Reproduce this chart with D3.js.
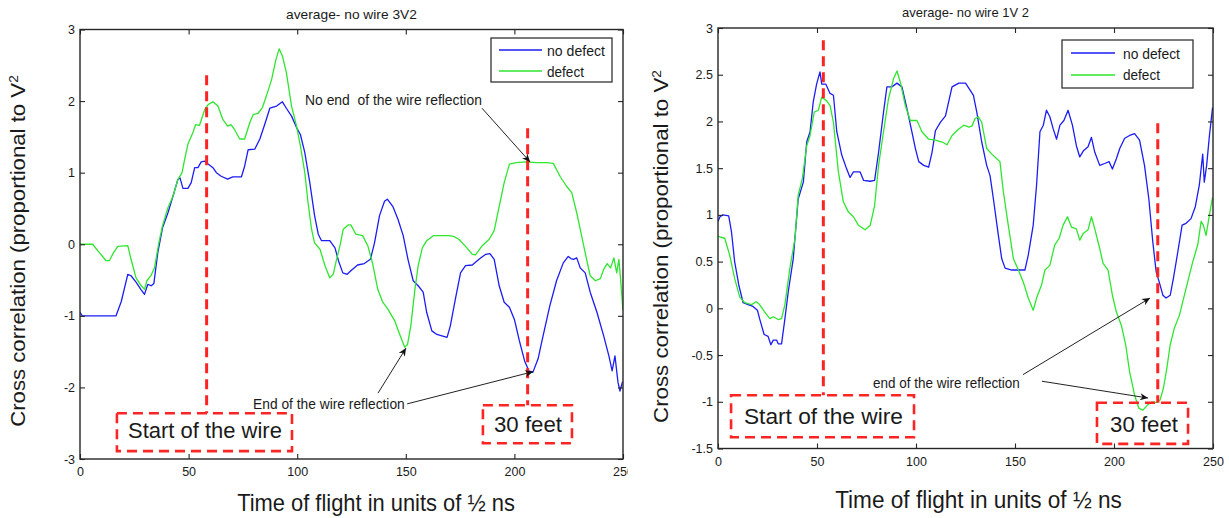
<!DOCTYPE html>
<html>
<head>
<meta charset="utf-8">
<script src="https://cdn.jsdelivr.net/npm/d3@7"></script>
<style>
  body { margin: 0; background: #fff; }
  svg { display: block; }
  text { font-family: "Liberation Sans", Arial, Helvetica, sans-serif; fill: #1a1a1a; white-space: pre; }
</style>
</head>
<body>
<svg id="chart" width="1229" height="518"></svg>
<script>
// ---- data -------------------------------------------------------------
const timeTicks = [0, 50, 100, 150, 200, 250];
const ticks3V2 = [-3, -2, -1, 0, 1, 2, 3];
const ticks1V2 = [-1.5, -1, -0.5, 0, 0.5, 1, 1.5, 2, 2.5, 3];
const seriesLabels = ["no defect", "defect"];

// [time (1/2 ns), cross correlation]
const noDefect3V2 = [[0,-0.95],[1,-1],[16.6,-1],[19,-0.8],[22,-0.42],[23.5,-0.44],[25.8,-0.53],[28,-0.63],[29.7,-0.7],[31.2,-0.56],[32.8,-0.58],[34,-0.55],[35.8,-0.12],[38,0.23],[40.5,0.44],[42.8,0.67],[45,0.9],[46,0.93],[47.4,0.78],[49.7,0.78],[51.2,0.86],[52.8,1.07],[54.3,1.07],[55.8,1.15],[57.4,1.16],[59,1.12],[61.2,1.07],[62.8,1.0],[65,0.95],[68,0.91],[70.3,0.94],[74.3,0.94],[75.8,1.09],[77.4,1.32],[80.5,1.33],[82.8,1.47],[85,1.67],[87.4,1.9],[90.5,1.93],[93.2,1.99],[95,1.9],[97.4,1.79],[99.7,1.63],[101.5,1.53],[103.5,1.28],[105.8,0.86],[108,0.4],[109.7,0.14],[111.2,0.05],[115,0.05],[117.4,-0.05],[119,-0.23],[121,-0.4],[123,-0.42],[124.7,-0.37],[127.8,-0.29],[130.9,-0.27],[133.7,-0.21],[135.6,0.02],[137.9,0.4],[140.2,0.6],[141.5,0.63],[144,0.53],[146.4,0.35],[148.8,0.12],[151,-0.21],[153.4,-0.51],[155.7,-0.58],[158,-0.67],[159.6,-0.95],[162,-1.21],[164.3,-1.26],[166.6,-1.28],[169,-1.3],[170.5,-1.14],[172.8,-0.77],[175.2,-0.4],[177.5,-0.3],[180.6,-0.29],[183.7,-0.21],[186.8,-0.14],[188.7,-0.13],[190.7,-0.21],[193,-0.58],[195.3,-0.81],[197.7,-0.88],[200,-1.05],[202.3,-1.35],[204.7,-1.63],[206.7,-1.77],[208.5,-1.79],[210.9,-1.6],[213.2,-1.28],[216.3,-0.86],[219.4,-0.51],[222.5,-0.26],[224.8,-0.17],[226,-0.2],[227.2,-0.21],[228.7,-0.19],[230.3,-0.33],[232.6,-0.4],[234.9,-0.67],[238,-0.95],[241.1,-1.28],[243.5,-1.56],[245,-1.77],[246.3,-1.56],[247.7,-1.93],[248.6,-2.05],[249.7,-1.93],[250,-1.92]];

const defect3V2 = [[0,0],[5.8,0],[9,-0.12],[12,-0.23],[13.5,-0.23],[15.4,-0.12],[17.4,-0.03],[22,-0.02],[23.5,-0.21],[25.8,-0.47],[28.2,-0.58],[29.7,-0.63],[30.8,-0.51],[32.8,-0.43],[34.3,-0.33],[36.3,0.02],[38,0.26],[40.5,0.51],[42.8,0.67],[45,0.9],[47,1.0],[48.2,1.19],[49.7,1.4],[52,1.56],[53.2,1.67],[55,1.66],[57.4,1.88],[59,1.95],[61.2,1.99],[63.5,1.93],[65.8,1.74],[68,1.65],[69.5,1.67],[71.2,1.6],[73.5,1.47],[75.8,1.47],[78.2,1.7],[79.7,1.81],[82,1.83],[84,1.91],[85.8,2.07],[88.2,2.3],[90.2,2.58],[91.7,2.73],[93.2,2.63],[95,2.4],[97.4,1.93],[99.7,1.65],[101.5,1.37],[103.5,1.0],[105,0.58],[106.6,0.21],[108,0.02],[110.5,-0.07],[112.8,-0.3],[115,-0.47],[116.6,-0.42],[118,-0.23],[119.7,-0.02],[121.2,0.21],[123.5,0.27],[124.7,0.27],[127,0.14],[130.1,0.12],[132.5,-0.02],[134.8,-0.28],[137.1,-0.63],[139.4,-0.81],[141.8,-0.91],[144.9,-1.07],[147.2,-1.26],[149.5,-1.44],[150.8,-1.4],[152.3,-1.14],[154.2,-0.63],[155.7,-0.3],[157.6,-0.05],[159.6,0.05],[162.7,0.12],[166.6,0.12],[169.7,0.12],[172,0.11],[174.4,0.07],[177.5,-0.03],[180.6,-0.14],[182.1,-0.15],[185.2,-0.02],[188.4,0.07],[190.7,0.19],[193,0.53],[195.3,0.86],[197.7,1.12],[200.8,1.14],[205.4,1.15],[210.1,1.14],[214.8,1.14],[217.9,1.13],[221,0.95],[224,0.81],[226.4,0.72],[228.7,0.44],[230.3,0.21],[232.6,-0.12],[234.9,-0.44],[237.3,-0.51],[239.6,-0.48],[241.1,-0.35],[242.7,-0.27],[244.3,-0.33],[245.8,-0.19],[247.1,-0.4],[248.1,-0.21],[248.9,-0.49],[250,-0.93]];

const noDefect1V2 = [[0,0.93],[1,0.98],[2.5,1.0],[5.4,0.99],[6.8,0.82],[8.4,0.5],[10.5,0.25],[12.7,0.06],[15.2,0.04],[17.7,0.02],[19.9,-0.02],[21,-0.11],[23.3,-0.28],[25.3,-0.3],[26.7,-0.39],[27.9,-0.34],[29.6,-0.34],[30.4,-0.38],[32.1,-0.38],[33.8,-0.11],[35.5,0.18],[38,0.53],[40.5,1.17],[43.1,1.35],[44.8,1.78],[46.5,1.89],[48.1,2.21],[49.8,2.4],[51.5,2.53],[52.4,2.4],[54.4,2.4],[56.6,2.3],[58.3,2.28],[60,1.89],[62.5,1.64],[65,1.49],[66.7,1.4],[68.4,1.46],[71.8,1.46],[73.5,1.37],[76.9,1.36],[79.1,1.37],[81.1,1.67],[83.6,2.1],[85.3,2.37],[87.8,2.37],[90.4,2.41],[92.9,2.37],[95.4,2.14],[97.9,1.89],[99.7,1.71],[101.4,1.57],[103.9,1.53],[106.4,1.51],[108.1,1.67],[109.8,1.9],[112.3,1.99],[114.9,2.06],[116.6,2.22],[118.2,2.37],[121.6,2.41],[125,2.41],[127.5,2.33],[129,2.28],[130.7,2.1],[133.2,1.78],[135.7,1.53],[137.4,1.42],[139.1,1.17],[141.6,0.78],[143.3,0.53],[145,0.43],[148.3,0.41],[155,0.41],[156.7,0.57],[159.2,0.89],[160.9,1.32],[162.6,1.89],[164.3,1.96],[165.9,2.12],[167.6,2.05],[169.3,1.92],[171,1.81],[172.7,1.96],[174.7,2.01],[176.8,2.12],[179,1.96],[181,1.74],[182.7,1.62],[184.7,1.69],[186.9,1.73],[188.6,1.83],[190.3,1.67],[192.8,1.53],[195.3,1.55],[197.5,1.57],[199.2,1.49],[201.2,1.6],[202.9,1.71],[205.4,1.82],[207.9,1.85],[210.4,1.87],[212.9,1.8],[215.4,1.53],[217.6,1.17],[219.6,0.71],[221.3,0.39],[223,0.27],[224.7,0.14],[226.3,0.11],[228.4,0.14],[230,0.32],[232.2,0.6],[234.4,0.89],[236.4,0.91],[238.9,0.96],[241.1,1.09],[243.1,1.32],[244.8,1.65],[245.6,1.35],[246.8,1.53],[248.2,1.85],[249.8,2.15]];

const defect1V2 = [[0,0.77],[3.4,0.75],[5.9,0.57],[8.4,0.32],[11,0.12],[13.5,0.06],[16.9,0.04],[19.4,0.07],[21,0.04],[23.6,-0.04],[26.2,-0.11],[27.9,-0.09],[30.4,-0.12],[32.1,-0.11],[33.8,0.04],[36.3,0.43],[38.9,0.75],[40.5,1.21],[42.6,1.39],[44.8,1.74],[46.5,1.85],[48.6,2.1],[50.7,2.12],[52.4,2.26],[54.9,2.22],[56.6,2.17],[58.3,1.99],[60.8,1.46],[63.3,1.14],[65.9,1.03],[68.4,0.98],[70.9,0.89],[74.3,0.84],[76.9,0.89],[79.1,1.1],[81.1,1.53],[83.6,1.89],[86.1,2.24],[88.7,2.46],[90.4,2.54],[92.1,2.42],[94.6,2.17],[97.1,2.01],[100.5,2.01],[103,1.89],[106.4,1.81],[109.8,1.8],[113.2,1.78],[115.7,1.75],[118.2,1.85],[121.6,1.92],[124.2,1.96],[126.7,1.94],[128.2,1.95],[129.9,2.03],[131.5,2.05],[133.2,1.99],[135.7,1.71],[138.3,1.65],[140.8,1.6],[142.4,1.57],[144.1,1.25],[146.6,0.89],[149.2,0.53],[151.7,0.41],[154.2,0.28],[156.7,0.11],[159.2,-0.02],[160.9,0.11],[163.4,0.25],[165.1,0.41],[167.6,0.46],[170.1,0.68],[172.3,0.75],[174.3,0.89],[176.5,0.98],[178.5,0.87],[181,0.85],[182.7,0.73],[184.4,0.8],[186.9,0.84],[188.6,0.98],[190.3,0.85],[192.8,0.64],[194.5,0.48],[197,0.41],[199.2,0.14],[201.2,-0.04],[203.7,-0.18],[205.9,-0.39],[207.9,-0.68],[210.4,-0.93],[212.6,-1.07],[214.6,-1.09],[217.1,-1.03],[219.3,-1.0],[221.3,-1.01],[223.3,-0.98],[225,-0.85],[226.7,-0.64],[228.4,-0.39],[230.5,-0.21],[233.1,-0.07],[234.7,0.07],[237.2,0.28],[239.8,0.5],[242.3,0.68],[244,0.93],[245.1,0.89],[246.5,0.78],[248.2,1.0],[249.8,1.19]];

// Annotations, in data units: dashed markers [x, yTop, yBottom],
// dashed frames [x0, x1, yTop, yBottom], callouts and arrows.
const markers3V2 = [[58.3, 2.36, -2.36], [206.1, 1.62, -2.25]];
const frames3V2 = [[17.0, 97.6, -2.36, -2.89], [185.5, 226.5, -2.25, -2.78]];
const frameLabels3V2 = [["Start of the wire", 22.1, 93.0, -2.71], ["30 feet", 190.6, 221.9, -2.62]];
const notes3V2 = [["No end  of the wire reflection", 103.6, 185.1, 1.95], ["End of the wire reflection", 79.7, 149.6, -2.30]];
const arrows3V2 = [[185.1, 1.90, 207.2, 1.15], [137.2, -2.08, 150.1, -1.45], [150.6, -2.23, 208.6, -1.78]];

const markers1V2 = [[53.2, 2.87, -0.93], [222.1, 1.98, -1.01]];
const frames1V2 = [[6.6, 99.0, -0.93, -1.38], [191.4, 237.4, -1.01, -1.45]];
const frameLabels1V2 = [["Start of the wire", 13.1, 93.4, -1.24], ["30 feet", 198.0, 232.3, -1.32]];
const notes1V2 = [["end of the wire reflection", 78.3, 152.5, -0.85]];
const arrows1V2 = [[154.0, -0.71, 218.2, 0.11], [163.6, -0.78, 217.2, -0.96]];

// ---- layout -----------------------------------------------------------
const colors = ["#1c1cf5", "#2fe62f"];
const markerRed = "#ff2424";

const panels = [
  {
    id: "p3v2", title: "average- no wire 3V2",
    titlePos: { x0: 286, x1: 417, base: 19, size: 12 },
    plot: { x0: 80, x1: 623, y0: 29.5, y1: 459 },
    clipRight: 628,
    yDomain: [-3, 3], yTicks: ticks3V2,
    series: [noDefect3V2, defect3V2],
    legend: { x0: 491, x1: 612, y0: 38, y1: 82, lineX: [499, 542], rows: [50, 71], textX: 547, bases: [56, 76.5], widths: [58, 37] },
    xTitle: { x0: 237, x1: 515, base: 511, size: 23 },
    yTitle: { base: 25, y0: 75, y1: 427, size: 19.5 },
    markers: markers3V2, frames: frames3V2, frameLabels: frameLabels3V2,
    notes: notes3V2, noteSize: 15, arrows: arrows3V2
  },
  {
    id: "p1v2", title: "average- no wire 1V 2",
    titlePos: { x0: 902, x1: 1029, base: 17, size: 12 },
    plot: { x0: 718, x1: 1213, y0: 28, y1: 448.5 },
    clipRight: 1229,
    yDomain: [-1.5, 3], yTicks: ticks1V2,
    series: [noDefect1V2, defect1V2],
    legend: { x0: 1062, x1: 1193, y0: 40, y1: 88, lineX: [1071, 1115], rows: [53, 75], textX: 1123, bases: [58.5, 79.5], widths: [57, 37] },
    xTitle: { x0: 835, x1: 1122, base: 508, size: 24 },
    yTitle: { base: 668, y0: 70, y1: 423, size: 20.5 },
    markers: markers1V2, frames: frames1V2, frameLabels: frameLabels1V2,
    notes: notes1V2, noteSize: 14, arrows: arrows1V2
  }
];

// ---- drawing ----------------------------------------------------------
const svg = d3.select("#chart");
const defs = svg.append("defs");
defs.append("marker")
  .attr("id", "arrowhead")
  .attr("viewBox", "0 0 10 10")
  .attr("refX", 10).attr("refY", 5)
  .attr("markerWidth", 9).attr("markerHeight", 8)
  .attr("markerUnits", "userSpaceOnUse")
  .attr("orient", "auto")
  .append("path")
  .attr("d", "M0,0.5 L10,5 L0,9.5 L3,5 Z")
  .attr("fill", "#111");

// Text placed at an anchor and stretched horizontally to a given width.
function fitText(parent, str, opt) {
  const g = parent.append("g");
  const t = g.append("text")
    .attr("font-size", opt.size)
    .attr("xml:space", "preserve")
    .attr("text-anchor", opt.anchor || "start");
  if (opt.sup) {
    t.append("tspan").text(str);
    t.append("tspan").attr("dy", "-0.55em").attr("font-size", "0.62em").text(opt.sup);
  } else {
    t.text(str);
  }
  const w = t.node().getComputedTextLength();
  const s = opt.width ? opt.width / w : 1;
  g.attr("transform", `translate(${opt.x},${opt.y}) rotate(${opt.rotate || 0}) scale(${s},1)`);
  return g;
}

panels.forEach(p => {
  const root = svg.append("g");
  defs.append("clipPath").attr("id", p.id + "-fig")
    .append("rect").attr("x", p.plot.x0 - 90).attr("y", 0)
    .attr("width", p.clipRight - (p.plot.x0 - 90)).attr("height", 518);
  defs.append("clipPath").attr("id", p.id + "-plot")
    .append("rect").attr("x", p.plot.x0).attr("y", p.plot.y0)
    .attr("width", p.plot.x1 - p.plot.x0).attr("height", p.plot.y1 - p.plot.y0);
  root.attr("clip-path", `url(#${p.id}-fig)`);

  const x = d3.scaleLinear().domain([0, 250]).range([p.plot.x0, p.plot.x1]);
  const y = d3.scaleLinear().domain(p.yDomain).range([p.plot.y1, p.plot.y0]);

  // data lines
  const line = d3.line().x(d => x(d[0])).y(d => y(d[1]));
  const lines = root.append("g").attr("clip-path", `url(#${p.id}-plot)`);
  p.series.forEach((s, i) => {
    lines.append("path").datum(s)
      .attr("d", line)
      .attr("fill", "none")
      .attr("stroke", colors[i])
      .attr("stroke-width", 1.3)
      .attr("stroke-linejoin", "round");
  });

  // red dashed markers and frames
  const red = root.append("g")
    .attr("stroke", markerRed).attr("fill", "none")
    .attr("stroke-dasharray", "10,6");
  p.markers.forEach(m => {
    red.append("line")
      .attr("x1", x(m[0])).attr("x2", x(m[0]))
      .attr("y1", y(m[1])).attr("y2", y(m[2]))
      .attr("stroke-width", 3);
  });
  p.frames.forEach(f => {
    red.append("rect")
      .attr("x", x(f[0])).attr("y", y(f[2]))
      .attr("width", x(f[1]) - x(f[0])).attr("height", y(f[3]) - y(f[2]))
      .attr("stroke-width", 2.6);
  });
  p.frameLabels.forEach(l => {
    fitText(root, l[0], { x: x(l[1]), y: y(l[3]), size: 22.5, width: x(l[2]) - x(l[1]) });
  });

  // callouts and arrows
  p.notes.forEach(n => {
    fitText(root, n[0], { x: x(n[1]), y: y(n[3]), size: p.noteSize, width: x(n[2]) - x(n[1]) });
  });
  p.arrows.forEach(a => {
    root.append("line")
      .attr("x1", x(a[0])).attr("y1", y(a[1]))
      .attr("x2", x(a[2])).attr("y2", y(a[3]))
      .attr("stroke", "#222").attr("stroke-width", 1)
      .attr("marker-end", "url(#arrowhead)");
  });

  // axes with inward ticks on all four sides
  const styleAxis = g => {
    g.select(".domain").remove();
    g.selectAll(".tick line").attr("stroke", "#262626").attr("stroke-width", 1.1);
    g.selectAll("text").attr("font-size", 12.5).attr("fill", "#1a1a1a")
      .attr("font-family", '"Liberation Sans", Arial, sans-serif');
  };
  root.append("g").attr("transform", `translate(0,${p.plot.y1})`)
    .call(d3.axisBottom(x).tickValues(timeTicks).tickSize(-5).tickSizeOuter(0).tickPadding(8.5).tickFormat(d3.format("d")))
    .call(styleAxis);
  root.append("g").attr("transform", `translate(0,${p.plot.y0})`)
    .call(d3.axisTop(x).tickValues(timeTicks).tickSize(-5).tickSizeOuter(0).tickFormat(""))
    .call(styleAxis);
  root.append("g").attr("transform", `translate(${p.plot.x0},0)`)
    .call(d3.axisLeft(y).tickValues(p.yTicks).tickSize(-5).tickSizeOuter(0).tickPadding(5).tickFormat(d => String(d)))
    .call(styleAxis);
  root.append("g").attr("transform", `translate(${p.plot.x1},0)`)
    .call(d3.axisRight(y).tickValues(p.yTicks).tickSize(-5).tickSizeOuter(0).tickFormat(""))
    .call(styleAxis);

  root.append("rect")
    .attr("x", p.plot.x0).attr("y", p.plot.y0)
    .attr("width", p.plot.x1 - p.plot.x0).attr("height", p.plot.y1 - p.plot.y0)
    .attr("fill", "none").attr("stroke", "#262626").attr("stroke-width", 1.4);

  // legend
  const L = p.legend;
  const lg = root.append("g");
  lg.append("rect")
    .attr("x", L.x0).attr("y", L.y0)
    .attr("width", L.x1 - L.x0).attr("height", L.y1 - L.y0)
    .attr("fill", "#fff").attr("stroke", "#333").attr("stroke-width", 1.3);
  seriesLabels.forEach((name, i) => {
    lg.append("line")
      .attr("x1", L.lineX[0]).attr("x2", L.lineX[1])
      .attr("y1", L.rows[i]).attr("y2", L.rows[i])
      .attr("stroke", colors[i]).attr("stroke-width", 1.4);
    fitText(lg, name, { x: L.textX, y: L.bases[i], size: 14, width: L.widths[i] });
  });

  // titles
  fitText(root, p.title, { x: (p.titlePos.x0 + p.titlePos.x1) / 2, y: p.titlePos.base, size: p.titlePos.size, anchor: "middle", width: p.titlePos.x1 - p.titlePos.x0 });
  fitText(root, "Time of flight in units of ½ ns", { x: (p.xTitle.x0 + p.xTitle.x1) / 2, y: p.xTitle.base, size: p.xTitle.size, anchor: "middle", width: p.xTitle.x1 - p.xTitle.x0 });
  fitText(root, "Cross correlation (proportional to V", { x: p.yTitle.base, y: (p.yTitle.y0 + p.yTitle.y1) / 2, size: p.yTitle.size, anchor: "middle", rotate: -90, width: p.yTitle.y1 - p.yTitle.y0, sup: "2" });
});
</script>
</body>
</html>
